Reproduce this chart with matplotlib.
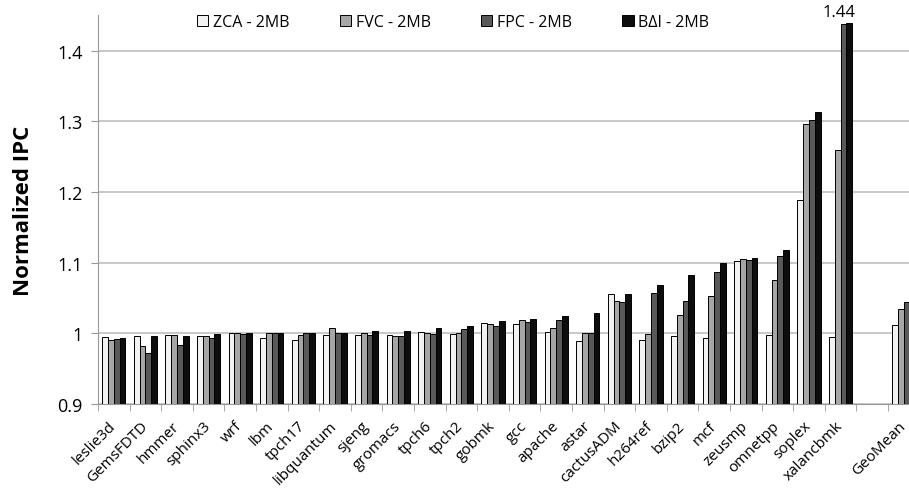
import numpy as np
import matplotlib
matplotlib.use('Agg')
import matplotlib.pyplot as plt
import matplotlib.transforms as mtransforms

plt.rcParams['font.family'] = ['Open Sans', 'DejaVu Sans']

# benchmarks (GeoMean is drawn one slot apart from the rest)
benchmarks = ['leslie3d', 'GemsFDTD', 'hmmer', 'sphinx3', 'wrf', 'lbm', 'tpch17',
              'libquantum', 'sjeng', 'gromacs', 'tpch6', 'tpch2', 'gobmk', 'gcc',
              'apache', 'astar', 'cactusADM', 'h264ref', 'bzip2', 'mcf', 'zeusmp',
              'omnetpp', 'soplex', 'xalancbmk', 'GeoMean']

zca = [0.995, 0.996, 0.997, 0.996, 1.000, 0.994, 0.991, 0.998, 0.998, 0.998,
       1.002, 0.999, 1.014, 1.013, 1.002, 0.989, 1.056, 0.991, 0.996, 0.993,
       1.102, 0.998, 1.189, 0.995, 1.012]
fvc = [0.991, 0.982, 0.997, 0.996, 1.000, 1.001, 0.998, 1.008, 1.001, 0.996,
       1.000, 1.000, 1.013, 1.019, 1.007, 1.000, 1.046, 0.999, 1.026, 1.053,
       1.105, 1.076, 1.296, 1.260, 1.034]
fpc = [0.992, 0.972, 0.983, 0.994, 0.999, 1.000, 1.001, 1.001, 0.997, 0.996,
       0.999, 1.006, 1.011, 1.016, 1.019, 1.000, 1.044, 1.057, 1.046, 1.087,
       1.104, 1.109, 1.302, 1.438, 1.045]
bdi = [0.994, 0.996, 0.996, 0.999, 1.000, 1.000, 1.001, 1.001, 1.003, 1.003,
       1.007, 1.010, 1.018, 1.021, 1.025, 1.029, 1.056, 1.068, 1.082, 1.099,
       1.106, 1.118, 1.313, 1.440, 1.053]

series = [('ZCA - 2MB', zca, '#f2f2f2'),
          ('FVC - 2MB', fvc, '#a6a6a6'),
          ('FPC - 2MB', fpc, '#595959'),
          ('B\u0394I - 2MB', bdi, '#0d0d0d')]

x = np.arange(len(benchmarks), dtype=float)
x[-1] += 1  # empty slot before GeoMean
n_slots = len(benchmarks) + 1

fig = plt.figure(figsize=(9.09, 4.89), dpi=100)
# axes runs past the right edge of the figure, like the cropped original
ax = fig.add_axes([98 / 909, 84 / 489, (31.6 * n_slots) / 909, 388.5 / 489])

w = 0.185
for k, (name, vals, col) in enumerate(series):
    ax.bar(x + (k - 1.5) * w, np.array(vals) - 0.9, w, bottom=0.9, color=col,
           edgecolor='black', linewidth=0.7, label=name, zorder=3)

ax.text(x[23] - 0.05, 1.443, '1.44', ha='center', va='bottom', fontsize=12)

ax.set_ylim(0.9, 1.45)
ax.set_xlim(-0.5, n_slots - 0.5)
ax.set_yticks([0.9, 1.0, 1.1, 1.2, 1.3, 1.4])
ax.set_yticklabels(['0.9', '1', '1.1', '1.2', '1.3', '1.4'], fontsize=13)
ax.yaxis.grid(True, color='#bfbfbf', linewidth=1.2, zorder=0)
ax.set_axisbelow(True)

ax.set_xticks(x)
ax.set_xticklabels(benchmarks, rotation=45, ha='right', va='center',
                   rotation_mode='anchor', fontsize=11)
shift = mtransforms.ScaledTranslation(-4 / 100, 0, fig.dpi_scale_trans)
for lab in ax.get_xticklabels():
    lab.set_transform(lab.get_transform() + shift)
ax.set_xticks(np.arange(n_slots + 1) - 0.5, minor=True)
ax.tick_params(axis='x', which='major', length=0, pad=14)
ax.tick_params(axis='x', which='minor', length=5, color='#999999')
ax.tick_params(axis='y', length=5, color='#999999', pad=6)

for s in ['top', 'right']:
    ax.spines[s].set_visible(False)
for s in ['left', 'bottom']:
    ax.spines[s].set_color('#999999')

ax.set_ylabel('Normalized IPC', fontsize=16, fontweight='bold')
ax.yaxis.set_label_coords(-0.078, 0.5)

ax.legend(loc='upper left', bbox_to_anchor=(0.103, 1.04), ncol=4, frameon=False,
          fontsize=11.5, handlelength=0.7, handleheight=0.7, handletextpad=0.3,
          columnspacing=3.15)

fig.savefig('out.png', dpi=100)
